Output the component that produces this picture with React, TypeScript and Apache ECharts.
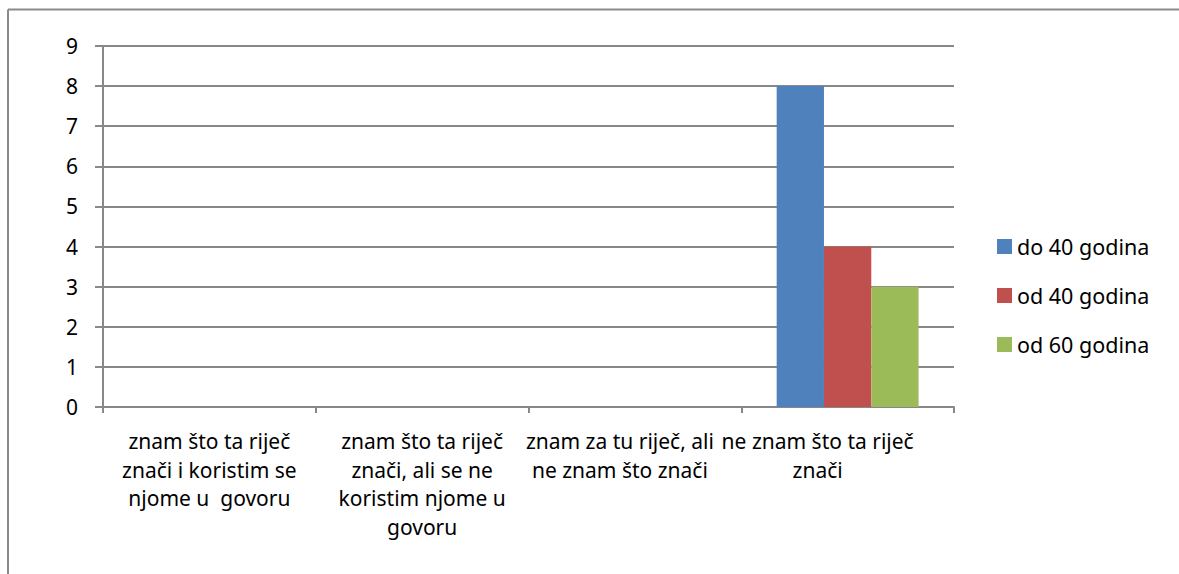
import React, { useEffect, useRef } from "react";
import * as echarts from "echarts";

const categories = [
  "znam što ta riječ\nznači i koristim se\nnjome u  govoru",
  "znam što ta riječ\nznači, ali se ne\nkoristim njome u\ngovoru",
  "znam za tu riječ, ali\nne znam što znači",
  "ne znam što ta riječ\nznači",
];
const seriesNames = ["do 40 godina", "od 40 godina", "od 60 godina"];
const do40 = [0, 0, 0, 8];
const od40 = [0, 0, 0, 4];
const od60 = [0, 0, 0, 3];
const colors = ["#4F81BD", "#C0504D", "#9BBB59"];
const labelShift = [0, 0, 30, 60];

const FONT = "'Noto Sans', sans-serif";

export default function App() {
  const ref = useRef<HTMLDivElement>(null);
  useEffect(() => {
    const chart = echarts.init(ref.current!, null, { renderer: "svg" });
    const values = [do40, od40, od60];
    chart.setOption({
      animation: false,
      textStyle: { fontFamily: FONT },
      color: colors,
      graphic: [
        { type: "line", shape: { x1: 8, y1: 9.5, x2: 1179, y2: 9.5 }, style: { stroke: "#8a8a8a", lineWidth: 2 } },
        { type: "line", shape: { x1: 8, y1: 9.5, x2: 8, y2: 574 }, style: { stroke: "#8a8a8a", lineWidth: 2 } },
      ],
      legend: {
        orient: "vertical",
        left: 997,
        top: 235.5,
        padding: 0,
        itemWidth: 15,
        itemHeight: 15,
        itemGap: 27,
        icon: "rect",
        textStyle: { fontFamily: FONT, fontSize: 21.5, color: "#000" },
        data: seriesNames,
      },
      grid: { left: 103, right: 225, top: 46, bottom: 167 },
      xAxis: {
        type: "category",
        data: categories.map((c, i) => ({
          value: c,
          textStyle: { padding: [0, labelShift[i], 0, 0] },
        })),
        axisLine: { lineStyle: { color: "#888", width: 2 } },
        axisTick: { show: true, length: 6, lineStyle: { color: "#888", width: 2 } },
        axisLabel: {
          interval: 0,
          margin: 20,
          fontFamily: FONT,
          fontSize: 21,
          lineHeight: 28.5,
          color: "#000",
        },
        splitLine: { show: false },
      },
      yAxis: {
        type: "value",
        min: 0,
        max: 9,
        interval: 1,
        axisLine: { show: true, lineStyle: { color: "#888", width: 2 } },
        axisTick: { show: true, length: 8, lineStyle: { color: "#888", width: 2 } },
        axisLabel: { margin: 25, fontFamily: FONT, fontSize: 21, color: "#000" },
        splitLine: { show: true, lineStyle: { color: "#888", width: 2 } },
      },
      series: seriesNames.map((name, i) => ({
        name,
        type: "bar",
        data: values[i],
        barGap: "0%",
        barCategoryGap: "33.3%",
        itemStyle: { color: colors[i] },
      })),
    });
    return () => chart.dispose();
  }, []);
  return (
    <div
      ref={ref}
      style={{ position: "absolute", left: 0, top: 0, width: 1179, height: 574, background: "#fff" }}
    />
  );
}
